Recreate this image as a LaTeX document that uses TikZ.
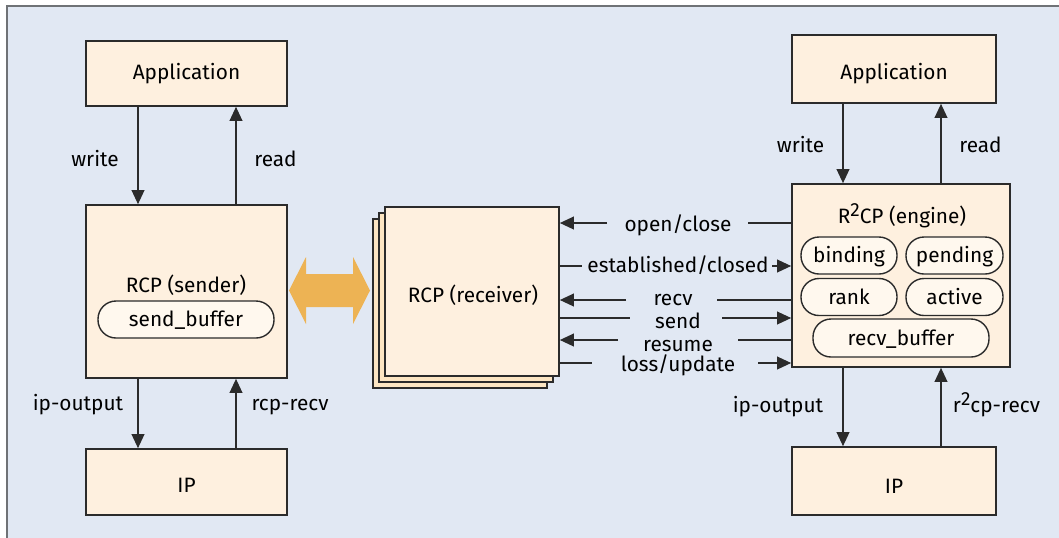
\documentclass[tikz,border=0pt]{standalone}
\usepackage{fontspec}
\setmainfont{Fira Sans}
\usetikzlibrary{arrows.meta}
\definecolor{panel}{HTML}{E1E8F3}
\definecolor{frameline}{HTML}{6F7276}
\definecolor{boxfill}{HTML}{FEF0DF}
\definecolor{stackfill}{HTML}{FCE5C2}
\definecolor{pillfill}{HTML}{FFF8EE}
\definecolor{ink}{HTML}{2B2B2B}
\definecolor{xchgorange}{HTML}{EDB354}
\tikzset{
  box/.style={draw=ink, line width=0.85pt, fill=boxfill, inner sep=0pt},
  stackbox/.style={draw=ink, line width=0.85pt, fill=stackfill, inner sep=0pt},
  pill/.style={draw=ink, line width=0.7pt, fill=pillfill, rounded corners=9pt,
    inner sep=0pt, minimum height=18.5pt, text height=1.45ex, text depth=0.1ex},
  arr/.style={line width=0.65pt, draw=ink, -{Triangle[length=7pt,width=6.4pt]}},
  wire/.style={line width=0.65pt, draw=ink},
  lbl/.style={inner sep=0pt, text height=1.45ex, text depth=0.1ex},
}
\newcommand{\sqr}{\raisebox{0.6ex}{\fontsize{9.5}{10}\selectfont 2}}
\begin{document}
\begin{tikzpicture}[x=0.5pt, y=-0.5pt, font=\fontsize{10.4}{12.5}\selectfont]
\useasboundingbox (0,0) rectangle (1059,537);
\fill[white] (0,0) rectangle (1059,537);
\filldraw[fill=panel, draw=frameline, line width=1pt] (7,6) rectangle (1070,550);

% sender side
\node[box, minimum width=100.5pt, minimum height=32.5pt] (lapp) at (186.5,73.5) {};
\node[lbl] (lappt) at (186.5,72) {Application};
\node[box, minimum width=100.5pt, minimum height=86.5pt] (lrcp) at (186.5,291.5) {};
\node[lbl] (lrcpt) at (186,285) {RCP (sender)};
\node[pill, minimum width=88pt] (sbuf) at (186,319.5) {send\_buffer};
\node[box, minimum width=100.5pt, minimum height=33pt] (lip) at (186.5,482) {};
\node[lbl] (lipt) at (186.5,485) {IP};

\draw[arr] ([xshift=-24.25pt]lapp.south) -- ([xshift=-24.25pt]lrcp.north);
\draw[arr] ([xshift=24.75pt]lrcp.north) -- ([xshift=24.75pt]lapp.south);
\draw[arr] ([xshift=-24.25pt]lrcp.south) -- ([xshift=-24.25pt]lip.north);
\draw[arr] ([xshift=24.75pt]lip.north) -- ([xshift=24.75pt]lrcp.south);
\node[lbl] (lw) at (95,159) {write};
\node[lbl] (lr) at (275.5,159) {read};
\node[lbl] (lo) at (78,403) {ip-output};
\node[lbl] (lrr) at (290,403) {rcp-recv};

% sender <-> receiver exchange
\fill[xchgorange] (289,290.5) -- (306,257) -- (306,274) -- (353,274) -- (353,257)
  -- (370,290.5) -- (353,324) -- (353,307) -- (306,307) -- (306,324) -- cycle;

% receiver stack
\node[stackbox, minimum width=87pt, minimum height=84.5pt] (rcv3) at (460,303.5) {};
\node[stackbox, minimum width=87pt, minimum height=84.5pt] (rcv2) at (466,297.5) {};
\node[box, minimum width=87pt, minimum height=84.5pt] (rcv) at (472,291.5) {};
\node[lbl] (rcvt) at (473,295) {RCP (receiver)};

% engine side
\node[box, minimum width=102pt, minimum height=34pt] (rapp) at (894,69) {};
\node[lbl] (rappt) at (894,72) {Application};
\node[box, minimum width=109pt, minimum height=91.5pt] (eng) at (901,275.5) {};
\node[lbl] (engt) at (902,216) {R\sqr CP (engine)};
\node[pill, minimum width=48pt] (bind) at (849,255.5) {binding};
\node[pill, minimum width=48.5pt] (pend) at (954.5,255.5) {pending};
\node[pill, minimum width=48pt] (rank) at (849,297) {rank};
\node[pill, minimum width=48.5pt] (act) at (954.5,297) {active};
\node[pill, minimum width=88pt, minimum height=19pt] (rbuf) at (901,338) {recv\_buffer};
\node[box, minimum width=102pt, minimum height=34pt] (rip) at (894,481) {};
\node[lbl] (ript) at (894,486) {IP};

\draw[arr] ([xshift=-25.5pt]rapp.south) -- ([xshift=-29pt]eng.north);
\draw[arr] ([xshift=20pt]eng.north) -- ([xshift=23.5pt]rapp.south);
\draw[arr] ([xshift=-29pt]eng.south) -- ([xshift=-25.5pt]rip.north);
\draw[arr] ([xshift=23.5pt]rip.north) -- ([xshift=20pt]eng.south);
\node[lbl] (rw) at (800.5,145) {write};
\node[lbl] (rr) at (980.5,145) {read};
\node[lbl] (ro) at (778,405) {ip-output};
\node[lbl] (rrr) at (996.5,405) {r\sqr cp-recv};

% primitives between receiver and engine
\coordinate (m1l) at (607,223);  \coordinate (m1r) at (748,223);
\coordinate (m2l) at (582,266);  \coordinate (m2r) at (772,266);
\coordinate (m3l) at (626,300);  \coordinate (m3r) at (717,300);
\coordinate (m4l) at (630,318);  \coordinate (m4r) at (722,318);
\coordinate (m5l) at (618,340);  \coordinate (m5r) at (738,340);
\coordinate (m6l) at (592,363);  \coordinate (m6r) at (758,363);

\node[lbl] (t1) at (678,224) {open/close};
\node[lbl] (t2) at (678,265) {established/closed};
\node[lbl] (t3) at (673,298) {recv};
\node[lbl] (t4) at (678,321) {send};
\node[lbl] (t5) at (678,344) {resume};
\node[lbl] (t6) at (678,364) {loss/update};

\draw[arr] (m1l) -- (rcv.east |- m1l);
\draw[wire] (eng.west |- m1r) -- (m1r);
\draw[wire] (rcv.east |- m2l) -- (m2l);
\draw[arr] (m2r) -- (eng.west |- m2r);
\draw[arr] (m3l) -- (rcv.east |- m3l);
\draw[wire] (eng.west |- m3r) -- (m3r);
\draw[wire] (rcv.east |- m4l) -- (m4l);
\draw[arr] (m4r) -- (eng.west |- m4r);
\draw[arr] (m5l) -- (rcv.east |- m5l);
\draw[wire] (eng.west |- m5r) -- (m5r);
\draw[wire] (rcv.east |- m6l) -- (m6l);
\draw[arr] (m6r) -- (eng.west |- m6r);
\end{tikzpicture}
\end{document}
